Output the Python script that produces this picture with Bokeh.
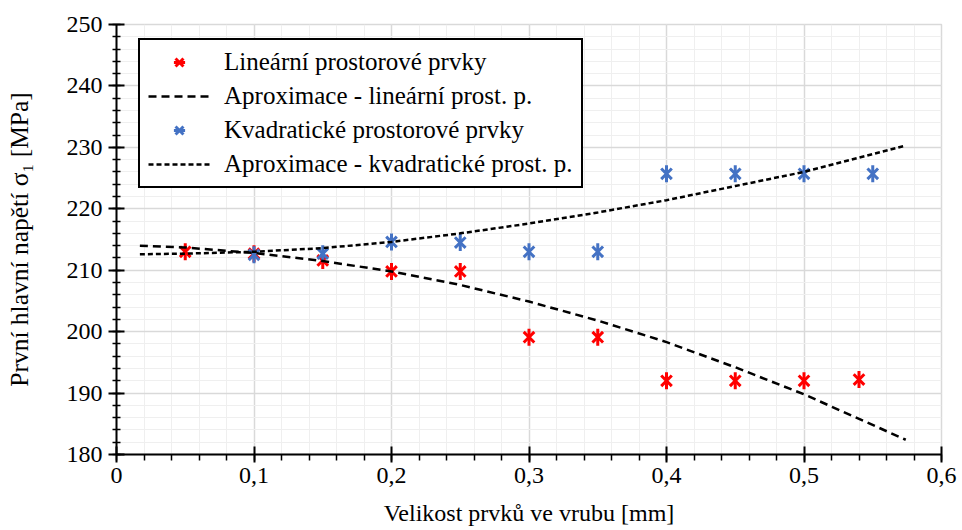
import math

from bokeh.plotting import figure
from bokeh.models import (Legend, LegendItem, FixedTicker,
                          CustomJSTickFormatter, Range1d)
from bokeh.embed import file_html
from bokeh.resources import INLINE

# Element size in the notch [mm] vs. first principal stress [MPa]
size_lin = [0.05, 0.10, 0.15, 0.20, 0.25, 0.30, 0.35, 0.40, 0.45, 0.50, 0.54]
stress_lin = [213.0, 212.7, 211.6, 209.8, 209.8, 199.1, 199.1, 192.0, 192.0, 192.0, 192.2]

size_quad = [0.10, 0.15, 0.20, 0.25, 0.30, 0.35, 0.40, 0.45, 0.50, 0.55]
stress_quad = [212.5, 212.7, 214.6, 214.5, 213.0, 213.0, 225.7, 225.7, 225.7, 225.7]

# Approximation curves sampled along the element size
size_fit = [0.017, 0.05, 0.10, 0.15, 0.20, 0.25, 0.30, 0.35, 0.40, 0.45, 0.50, 0.574]
approx_lin = [214.0, 213.7, 212.8, 211.5, 209.8, 207.6, 204.9, 201.8, 198.3, 194.2, 189.8, 182.4]
approx_quad = [212.6, 212.7, 213.0, 213.6, 214.6, 216.0, 217.6, 219.4, 221.4, 223.7, 226.0, 230.3]

x_ticks = [0.0, 0.1, 0.2, 0.3, 0.4, 0.5, 0.6]
y_ticks = [180, 190, 200, 210, 220, 230, 240, 250]

labels = ["Lineární prostorové prvky",
          "Aproximace - lineární prost. p.",
          "Kvadratické prostorové prvky",
          "Aproximace - kvadratické prost. p."]

RED = "#ff0000"
BLUE = "#4472c4"
FONT = "Liberation Serif"

p = figure(width=962, height=530, output_backend="svg", toolbar_location=None,
           x_range=Range1d(0, 0.6), y_range=Range1d(180, 250),
           min_border_left=116, min_border_right=21,
           min_border_top=24, min_border_bottom=76)
p.background_fill_color = "white"
p.border_fill_color = "white"
p.outline_line_color = "#d9d9d9"
p.outline_line_width = 1.5

# axes: five minor steps between majors
x_minor = [round(i * 0.02, 2) for i in range(31)]
y_minor = [180 + 2 * i for i in range(36)]
p.xaxis.ticker = FixedTicker(ticks=x_ticks, minor_ticks=x_minor)
p.yaxis.ticker = FixedTicker(ticks=y_ticks, minor_ticks=y_minor)
p.xaxis.formatter = CustomJSTickFormatter(
    code="return tick === 0 ? '0' : tick.toFixed(1).replace('.', ',')")

p.xaxis.axis_label = "Velikost prvků ve vrubu [mm]"
p.yaxis.axis_label = "První hlavní napětí σ₁ [MPa]"

for ax in (p.xaxis[0], p.yaxis[0]):
    ax.axis_line_color = "black"
    ax.axis_line_width = 2
    ax.major_tick_line_color = "black"
    ax.major_tick_line_width = 2
    ax.minor_tick_line_color = "black"
    ax.minor_tick_line_width = 1.5
    ax.major_tick_in = 8
    ax.major_tick_out = 8
    ax.major_label_text_font = FONT
    ax.major_label_text_font_size = "24px"
    ax.major_label_text_color = "black"
    ax.axis_label_text_font = FONT
    ax.axis_label_text_font_style = "normal"
    ax.axis_label_text_color = "black"

p.xaxis.axis_label_text_font_size = "24px"
p.yaxis.axis_label_text_font_size = "25.5px"
p.xaxis.minor_tick_in = 0
p.xaxis.minor_tick_out = 6
p.yaxis.minor_tick_in = 4
p.yaxis.minor_tick_out = 4
p.xaxis.major_label_standoff = 5
p.yaxis.major_label_standoff = 6
p.xaxis.axis_label_standoff = 14
p.yaxis.axis_label_standoff = 30

# grid
for g in (p.xgrid[0], p.ygrid[0]):
    g.grid_line_color = "#d9d9d9"
    g.grid_line_width = 1.5
    g.minor_grid_line_color = "#efefef"
    g.minor_grid_line_width = 1


def star(xs, ys, color):
    """Six-armed star marker: an X with a vertical bar through it."""
    a = p.scatter(xs, ys, marker="x", size=15, line_color=color, line_width=3)
    b = p.scatter(xs, ys, marker="dash", size=17, angle=math.pi / 2,
                  line_color=color, line_width=3)
    return [a, b]


# data points
r_lin = star(size_lin, stress_lin, RED)
r_quad = star(size_quad, stress_quad, BLUE)

# approximation curves
r_fit_lin = p.line(size_fit, approx_lin, line_color="black", line_width=2.5,
                   line_dash="8 5")
r_fit_quad = p.line(size_fit, approx_quad, line_color="black", line_width=2.5,
                    line_dash="5 3")

legend = Legend(items=[LegendItem(label=labels[0], renderers=r_lin),
                       LegendItem(label=labels[1], renderers=[r_fit_lin]),
                       LegendItem(label=labels[2], renderers=r_quad),
                       LegendItem(label=labels[3], renderers=[r_fit_quad])],
                location=(22, 266))
legend.label_text_font = FONT
legend.label_text_font_size = "25px"
legend.label_text_color = "black"
legend.glyph_width = 62
legend.glyph_height = 28
legend.label_height = 28
legend.label_standoff = 14
legend.spacing = 6
legend.padding = 8
legend.margin = 0
legend.border_line_color = "black"
legend.border_line_alpha = 1
legend.border_line_width = 2
legend.background_fill_color = "white"
legend.background_fill_alpha = 1
p.add_layout(legend, "center")

open("out.html", "w").write(file_html(p, INLINE))
